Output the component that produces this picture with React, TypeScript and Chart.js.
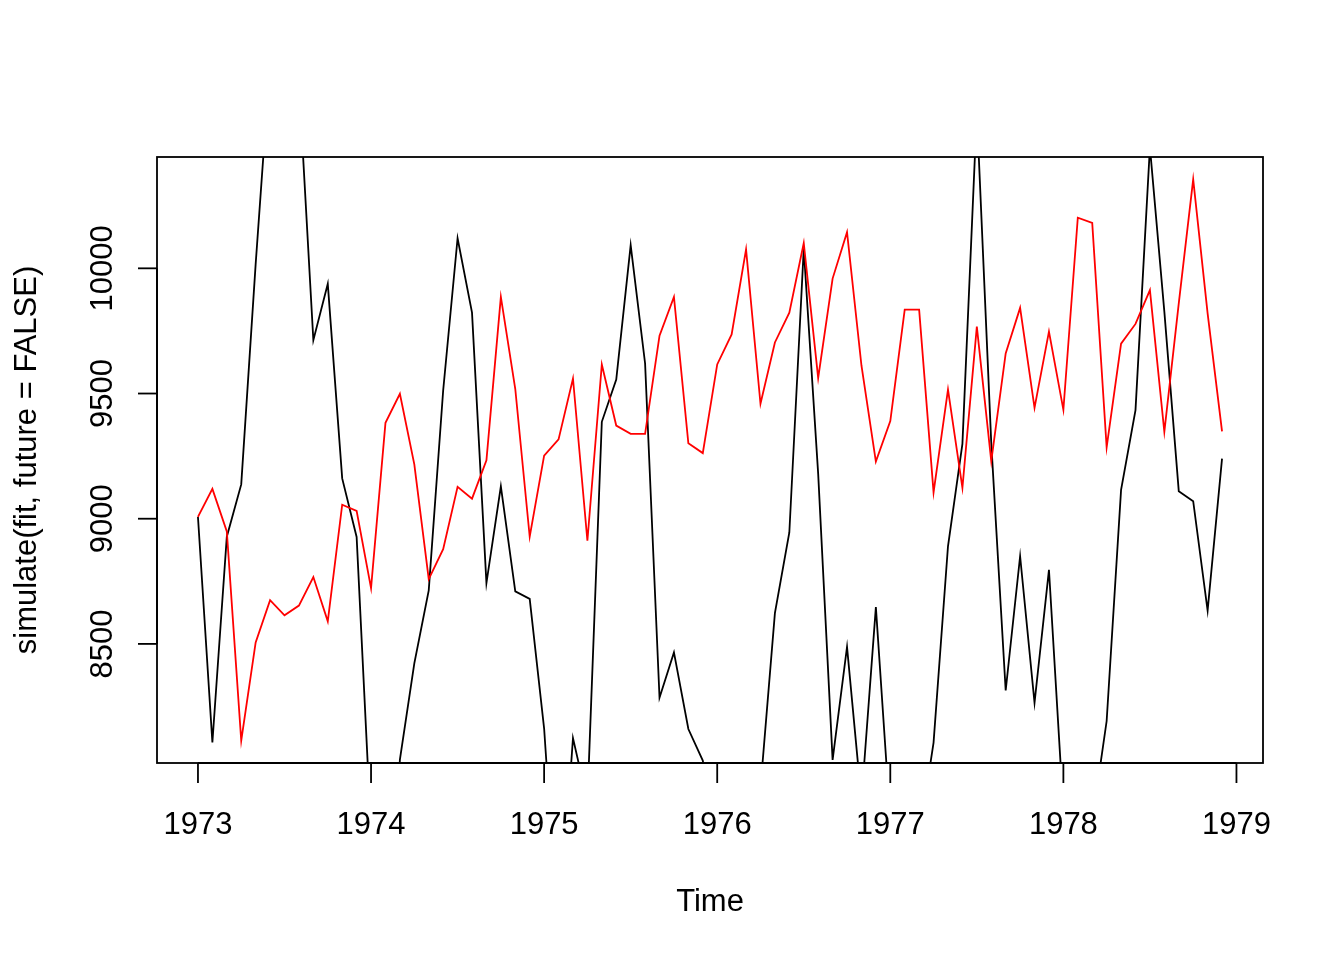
import React, { useEffect, useRef } from "react";
import { Chart, registerables } from "chart.js";

Chart.register(...registerables);

const startYear = 1973;
const frequency = 12;

const observed = [
  9007, 8106, 8928, 9137, 10017, 10826, 11317, 10744, 9713, 9938, 9161, 8927,
  7750, 6981, 8038, 8422, 8714, 9512, 10120, 9823, 8743, 9129, 8710, 8680,
  8162, 7306, 8124, 7870, 9387, 9556, 10093, 9620, 8285, 8466, 8160, 8034,
  7717, 7461, 7767, 7925, 8623, 8945, 10078, 9179, 8037, 8488, 7874, 8647,
  7792, 6957, 7726, 8106, 8890, 9299, 10625, 9302, 8314, 8850, 8265, 8796,
  7836, 6892, 7791, 8192, 9115, 9434, 10484, 9827, 9110, 9070, 8633, 9240,
];

const simulated = [
  9007, 9119, 8949, 8114, 8506, 8675, 8614, 8653, 8767, 8590, 9056, 9031,
  8723, 9383, 9499, 9217, 8759, 8878, 9127, 9080, 9233, 9886, 9518, 8928,
  9252, 9317, 9560, 8912, 9616, 9372, 9339, 9339, 9731, 9886, 9301, 9262,
  9616, 9736, 10076, 9459, 9704, 9823, 10101, 9562, 9959, 10144, 9612, 9228,
  9390, 9835, 9835, 9105, 9516, 9123, 9767, 9230, 9660, 9842, 9443, 9747,
  9435, 10202, 10181, 9285, 9699, 9778, 9913, 9347, 9860, 10355, 9820, 9349,
];

const xTicks = [1973, 1974, 1975, 1976, 1977, 1978, 1979];
const yTicks = [8500, 9000, 9500, 10000];
const xLabel = "Time";
const yLabel = "simulate(fit, future = FALSE)";

const FONT = '31px "Liberation Sans", Arial, sans-serif';
const LW = 1.8;

function toPoints(values: number[]) {
  return values.map((v, i) => ({ x: startYear + i / frequency, y: v }));
}

// R-style axis limits: data range extended by 4% on each side
function rRange(lo: number, hi: number): [number, number] {
  const d = (hi - lo) * 0.04;
  return [lo - d, hi + d];
}

const rAxesPlugin = {
  id: "rAxes",
  afterDraw(chart: any) {
    const ctx: CanvasRenderingContext2D = chart.ctx;
    const { left, top, right, bottom } = chart.chartArea;
    const xs = chart.scales.x;
    const ys = chart.scales.y;
    ctx.save();
    ctx.strokeStyle = "#000";
    ctx.fillStyle = "#000";
    ctx.lineWidth = LW;
    ctx.lineCap = "butt";
    ctx.strokeRect(left, top, right - left, bottom - top);

    // x axis
    const x0 = xs.getPixelForValue(xTicks[0]);
    const x1 = xs.getPixelForValue(xTicks[xTicks.length - 1]);
    ctx.beginPath();
    ctx.moveTo(x0, bottom);
    ctx.lineTo(x1, bottom);
    ctx.stroke();
    ctx.font = FONT;
    ctx.textAlign = "center";
    ctx.textBaseline = "alphabetic";
    xTicks.forEach((t) => {
      const px = xs.getPixelForValue(t);
      ctx.beginPath();
      ctx.moveTo(px, bottom);
      ctx.lineTo(px, bottom + 20);
      ctx.stroke();
      ctx.fillText(String(t), px, bottom + 71);
    });

    // y axis
    const y0 = ys.getPixelForValue(yTicks[0]);
    const y1 = ys.getPixelForValue(yTicks[yTicks.length - 1]);
    ctx.beginPath();
    ctx.moveTo(left, y0);
    ctx.lineTo(left, y1);
    ctx.stroke();
    yTicks.forEach((t) => {
      const py = ys.getPixelForValue(t);
      ctx.beginPath();
      ctx.moveTo(left, py);
      ctx.lineTo(left - 19, py);
      ctx.stroke();
      ctx.save();
      ctx.translate(left - 45, py);
      ctx.rotate(-Math.PI / 2);
      ctx.fillText(String(t), 0, 0);
      ctx.restore();
    });

    // titles
    ctx.fillText(xLabel, (left + right) / 2, bottom + 148);
    ctx.save();
    ctx.translate(left - 121, (top + bottom) / 2);
    ctx.rotate(-Math.PI / 2);
    ctx.fillText(yLabel, 0, 0);
    ctx.restore();

    ctx.restore();
  },
};

export default function App() {
  const canvasRef = useRef<HTMLCanvasElement | null>(null);

  useEffect(() => {
    if (!canvasRef.current) return;
    const times = simulated.map((_, i) => startYear + i / frequency);
    const [xMin, xMax] = rRange(times[0], times[times.length - 1]);
    const [yMin, yMax] = rRange(Math.min(...simulated), Math.max(...simulated));

    const chart = new Chart(canvasRef.current, {
      type: "line",
      data: {
        datasets: [
          {
            label: "simulated",
            data: toPoints(simulated),
            borderColor: "#ff0000",
            borderWidth: LW,
            pointRadius: 0,
            tension: 0,
            fill: false,
            order: 0,
          },
          {
            label: "observed",
            data: toPoints(observed),
            borderColor: "#000000",
            borderWidth: LW,
            pointRadius: 0,
            tension: 0,
            fill: false,
            order: 1,
          },
        ],
      },
      options: {
        animation: false,
        responsive: false,
        devicePixelRatio: 1,
        layout: { padding: { left: 157, top: 157, right: 81, bottom: 197 } },
        scales: {
          x: { type: "linear", display: false, min: xMin, max: xMax },
          y: { type: "linear", display: false, min: yMin, max: yMax },
        },
        plugins: {
          legend: { display: false },
          tooltip: { enabled: false },
        },
      },
      plugins: [rAxesPlugin],
    });
    return () => chart.destroy();
  }, []);

  return (
    <div style={{ position: "absolute", left: 0, top: 0, width: 1344, height: 960, background: "#fff" }}>
      <canvas ref={canvasRef} width={1344} height={960} style={{ display: "block" }} />
    </div>
  );
}
